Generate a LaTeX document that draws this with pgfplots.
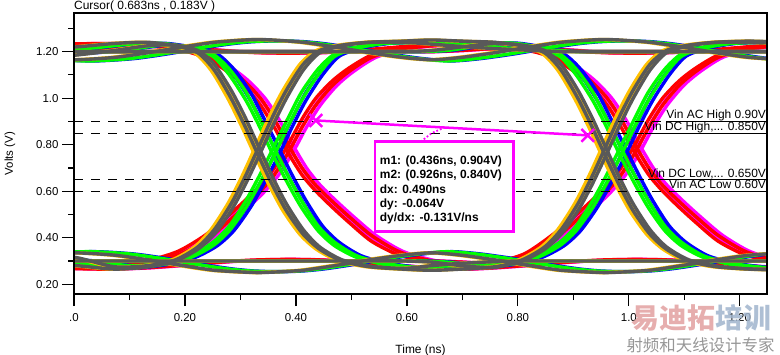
\documentclass[border=0pt]{standalone}
\usepackage{pgfplots}
\usepackage{pgfplotstable}
\pgfplotsset{compat=1.18}
\usepackage{fontspec}
\setmainfont{Liberation Sans}
\newfontfamily\cjk{Noto Sans CJK SC}
\definecolor{egray}{RGB}{89,89,89}
\definecolor{eorange}{RGB}{255,192,0}
\definecolor{egreen}{RGB}{0,255,0}
\definecolor{eblue}{RGB}{0,0,255}
\definecolor{ered}{RGB}{255,0,0}
\definecolor{emag}{RGB}{255,0,255}
\definecolor{wmred}{RGB}{226,160,160}
\definecolor{wmblue}{RGB}{160,180,205}
\definecolor{wmgray}{RGB}{150,150,150}

% fast class: gray (t1) / orange (t2)
\pgfplotstableread{
t1 t2 A B C D E F G H
-0.067 -0.073 1.215 0.285 1.175 0.325 1.20 0.30 1.17 0.33
0.003 -0.003 1.22 0.28 1.185 0.315 1.20 0.30 1.165 0.335
0.073 0.067 1.235 0.265 1.205 0.275 1.20 0.30 1.175 0.325
0.133 0.127 1.24 0.275 1.225 0.28 1.20 0.30 1.195 0.305
0.183 0.177 1.225 0.30 1.228 0.305 1.20 0.30 1.215 0.285
0.223 0.217 1.195 0.35 1.205 0.36 1.20 0.30 1.23 0.27
0.253 0.247 1.12 0.415 1.145 0.435 1.20 0.30 1.24 0.26
0.283 0.277 1.00 0.515 1.035 0.545 1.20 0.30 1.246 0.255
0.308 0.302 0.88 0.625 0.92 0.66 1.20 0.30 1.25 0.252
0.333 0.327 0.75 0.75 0.79 0.79 1.20 0.30 1.252 0.25
0.358 0.352 0.625 0.88 0.66 0.92 1.20 0.30 1.25 0.252
0.383 0.377 0.515 1.00 0.545 1.035 1.20 0.30 1.246 0.255
0.413 0.407 0.415 1.12 0.435 1.145 1.20 0.30 1.24 0.26
0.443 0.437 0.35 1.195 0.36 1.205 1.20 0.30 1.23 0.27
0.483 0.477 0.30 1.225 0.305 1.228 1.20 0.30 1.215 0.285
0.533 0.527 0.275 1.24 0.278 1.24 1.20 0.30 1.195 0.305
0.593 0.587 0.265 1.245 0.268 1.24 1.20 0.30 1.175 0.325
0.6455 0.6395 0.26 1.25 0.28 1.232 1.205 0.295 1.165 0.335
0.698 0.692 0.265 1.245 0.29 1.222 1.22 0.28 1.175 0.325
0.758 0.752 0.275 1.24 0.297 1.213 1.235 0.272 1.195 0.305
0.808 0.802 0.30 1.225 0.30 1.207 1.228 0.305 1.215 0.285
0.848 0.842 0.35 1.195 0.30 1.203 1.205 0.36 1.23 0.27
0.878 0.872 0.415 1.12 0.30 1.20 1.145 0.435 1.24 0.26
0.908 0.902 0.515 1.00 0.30 1.20 1.035 0.545 1.246 0.255
0.933 0.927 0.625 0.88 0.30 1.20 0.92 0.66 1.25 0.252
0.958 0.952 0.75 0.75 0.30 1.20 0.79 0.79 1.252 0.25
0.983 0.977 0.88 0.625 0.30 1.20 0.66 0.92 1.25 0.252
1.008 1.002 1.00 0.515 0.30 1.20 0.545 1.035 1.246 0.255
1.038 1.032 1.12 0.415 0.30 1.20 0.435 1.145 1.24 0.26
1.068 1.062 1.195 0.35 0.30 1.20 0.36 1.205 1.23 0.27
1.108 1.102 1.225 0.30 0.30 1.20 0.305 1.228 1.215 0.285
1.158 1.152 1.24 0.275 0.30 1.20 0.278 1.24 1.195 0.305
1.218 1.212 1.245 0.265 0.30 1.20 0.266 1.24 1.175 0.325
1.283 1.277 1.24 0.26 0.30 1.20 0.265 1.235 1.165 0.335
}\fasttab

% medium class: green (t1) / blue (t2)
\pgfplotstableread{
t1 t2 A B C D E F G H
-0.040 -0.032 1.21 0.29 1.19 0.31 1.20 0.30 1.165 0.335
0.030 0.038 1.215 0.285 1.195 0.30 1.20 0.30 1.16 0.34
0.100 0.108 1.232 0.27 1.21 0.28 1.20 0.30 1.17 0.33
0.160 0.168 1.235 0.285 1.228 0.29 1.20 0.30 1.19 0.31
0.210 0.218 1.215 0.315 1.22 0.322 1.20 0.30 1.21 0.29
0.250 0.258 1.18 0.365 1.19 0.38 1.20 0.30 1.225 0.275
0.280 0.288 1.10 0.43 1.125 0.45 1.20 0.30 1.235 0.265
0.310 0.318 0.99 0.53 1.025 0.56 1.20 0.30 1.242 0.258
0.335 0.343 0.875 0.635 0.91 0.67 1.20 0.30 1.245 0.255
0.360 0.368 0.75 0.75 0.79 0.79 1.20 0.30 1.246 0.254
0.385 0.393 0.635 0.875 0.67 0.91 1.20 0.30 1.245 0.255
0.410 0.418 0.53 0.99 0.56 1.025 1.20 0.30 1.242 0.258
0.440 0.448 0.43 1.10 0.45 1.125 1.20 0.30 1.235 0.265
0.470 0.478 0.365 1.18 0.38 1.19 1.20 0.30 1.225 0.275
0.510 0.518 0.315 1.215 0.322 1.22 1.20 0.30 1.21 0.29
0.560 0.568 0.285 1.235 0.29 1.237 1.20 0.30 1.19 0.31
0.620 0.628 0.27 1.24 0.272 1.24 1.20 0.30 1.17 0.33
0.6725 0.6805 0.265 1.245 0.28 1.235 1.205 0.295 1.16 0.34
0.725 0.733 0.27 1.24 0.29 1.225 1.222 0.28 1.17 0.33
0.785 0.793 0.285 1.235 0.295 1.215 1.237 0.29 1.19 0.31
0.835 0.843 0.315 1.215 0.298 1.21 1.22 0.322 1.21 0.29
0.875 0.883 0.365 1.18 0.30 1.205 1.19 0.38 1.225 0.275
0.905 0.913 0.43 1.10 0.30 1.20 1.125 0.45 1.235 0.265
0.935 0.943 0.53 0.99 0.30 1.20 1.025 0.56 1.242 0.258
0.960 0.968 0.635 0.875 0.30 1.20 0.91 0.67 1.245 0.255
0.985 0.993 0.75 0.75 0.30 1.20 0.79 0.79 1.246 0.254
1.010 1.018 0.875 0.635 0.30 1.20 0.67 0.91 1.245 0.255
1.035 1.043 0.99 0.53 0.30 1.20 0.56 1.025 1.242 0.258
1.065 1.073 1.10 0.43 0.30 1.20 0.45 1.125 1.235 0.265
1.095 1.103 1.18 0.365 0.30 1.20 0.38 1.19 1.225 0.275
1.135 1.143 1.215 0.315 0.30 1.20 0.322 1.22 1.21 0.29
1.185 1.193 1.235 0.285 0.30 1.20 0.29 1.237 1.19 0.31
1.245 1.253 1.24 0.27 0.30 1.20 0.272 1.24 1.17 0.33
1.310 1.318 1.238 0.265 0.30 1.20 0.27 1.238 1.16 0.34
}\medtab

% slow class: red (t1) / magenta (t2)
\pgfplotstableread{
t1 t2 A B C D E F G H
-0.014 -0.006 1.225 0.28 1.21 0.30 1.20 0.30 1.232 0.268
0.056 0.064 1.228 0.275 1.215 0.30 1.20 0.30 1.235 0.265
0.126 0.134 1.225 0.295 1.228 0.30 1.20 0.30 1.23 0.27
0.186 0.194 1.21 0.325 1.215 0.34 1.20 0.30 1.22 0.28
0.236 0.244 1.175 0.385 1.185 0.41 1.20 0.30 1.21 0.29
0.276 0.284 1.115 0.465 1.13 0.49 1.20 0.30 1.203 0.297
0.306 0.314 1.055 0.53 1.075 0.555 1.20 0.30 1.198 0.302
0.336 0.344 0.97 0.60 1.00 0.625 1.20 0.30 1.195 0.305
0.361 0.369 0.875 0.67 0.91 0.70 1.20 0.30 1.194 0.306
0.386 0.394 0.765 0.765 0.80 0.80 1.20 0.30 1.193 0.307
0.411 0.419 0.67 0.875 0.70 0.91 1.20 0.30 1.194 0.306
0.436 0.444 0.60 0.97 0.625 1.00 1.20 0.30 1.195 0.305
0.466 0.474 0.53 1.055 0.555 1.075 1.20 0.30 1.198 0.302
0.496 0.504 0.465 1.115 0.49 1.13 1.20 0.30 1.203 0.297
0.536 0.544 0.385 1.175 0.41 1.185 1.20 0.30 1.21 0.29
0.586 0.594 0.325 1.21 0.34 1.215 1.20 0.30 1.22 0.28
0.646 0.654 0.295 1.225 0.30 1.228 1.20 0.30 1.23 0.27
0.6985 0.7065 0.285 1.23 0.29 1.225 1.205 0.295 1.235 0.265
0.751 0.759 0.295 1.225 0.29 1.22 1.212 0.29 1.23 0.27
0.811 0.819 0.325 1.21 0.292 1.215 1.205 0.33 1.22 0.28
0.861 0.869 0.385 1.175 0.295 1.21 1.185 0.41 1.21 0.29
0.901 0.909 0.465 1.115 0.298 1.205 1.13 0.49 1.203 0.297
0.931 0.939 0.53 1.055 0.30 1.20 1.075 0.555 1.198 0.302
0.961 0.969 0.60 0.97 0.30 1.20 1.00 0.625 1.195 0.305
0.986 0.994 0.67 0.875 0.30 1.20 0.91 0.70 1.194 0.306
1.011 1.019 0.765 0.765 0.30 1.20 0.80 0.80 1.193 0.307
1.036 1.044 0.875 0.67 0.30 1.20 0.70 0.91 1.194 0.306
1.061 1.069 0.97 0.60 0.30 1.20 0.625 1.00 1.195 0.305
1.091 1.099 1.055 0.53 0.30 1.20 0.555 1.075 1.198 0.302
1.121 1.129 1.115 0.465 0.30 1.20 0.49 1.13 1.203 0.297
1.161 1.169 1.175 0.385 0.30 1.20 0.41 1.185 1.21 0.29
1.211 1.219 1.21 0.325 0.30 1.20 0.34 1.215 1.22 0.28
1.271 1.279 1.225 0.295 0.30 1.20 0.30 1.228 1.23 0.27
1.336 1.344 1.23 0.285 0.30 1.20 0.29 1.23 1.235 0.265
}\slowtab

\begin{document}
\begin{tikzpicture}
\begin{axis}[name=ax, scale only axis, width=693bp, height=281bp,
  xmin=0, xmax=1.249, ymin=0.158, ymax=1.366,
  axis on top,
  axis line style={line width=1.2bp},
  xtick={0,0.2,0.4,0.6,0.8,1.0,1.2},
  xticklabels={.0,0.20,0.40,0.60,0.80,1.0,1.20},
  minor xtick={0.1,0.3,0.5,0.7,0.9,1.1},
  ytick={0.2,0.4,0.6,0.8,1.0,1.2},
  yticklabels={0.20,0.40,0.60,0.80,1.0,1.20},
  minor ytick={0.3,0.5,0.7,0.9,1.1,1.3},
  tick align=outside, xtick pos=left, ytick pos=left,
  major tick length=12bp, minor tick length=6bp,
  tick style={line width=1.2bp, black},
  tick label style={font=\fontsize{11.5}{13}\selectfont},
  /pgf/number format/assume math mode=true,
  xticklabel shift=4bp,
  eye/.style={line width=3.4bp, smooth, tension=0.45, mark=none},
]
% magenta
\addplot[eye, emag] table[x=t2,y=A]{\slowtab};
\addplot[eye, emag] table[x=t2,y=B]{\slowtab};
\addplot[eye, emag] table[x=t2,y=C]{\slowtab};
\addplot[eye, emag] table[x=t2,y=D]{\slowtab};
\addplot[eye, emag] table[x=t2,y=E]{\slowtab};
\addplot[eye, emag] table[x=t2,y=F]{\slowtab};
\addplot[eye, emag] table[x=t2,y=G]{\slowtab};
\addplot[eye, emag] table[x=t2,y=H]{\slowtab};
% red
\addplot[eye, ered] table[x=t1,y=A]{\slowtab};
\addplot[eye, ered] table[x=t1,y=B]{\slowtab};
\addplot[eye, ered] table[x=t1,y=C]{\slowtab};
\addplot[eye, ered] table[x=t1,y=D]{\slowtab};
\addplot[eye, ered] table[x=t1,y=E]{\slowtab};
\addplot[eye, ered] table[x=t1,y=F]{\slowtab};
\addplot[eye, ered] table[x=t1,y=G]{\slowtab};
\addplot[eye, ered] table[x=t1,y=H]{\slowtab};
% blue
\addplot[eye, eblue] table[x=t2,y=A]{\medtab};
\addplot[eye, eblue] table[x=t2,y=B]{\medtab};
\addplot[eye, eblue] table[x=t2,y=C]{\medtab};
\addplot[eye, eblue] table[x=t2,y=D]{\medtab};
\addplot[eye, eblue] table[x=t2,y=E]{\medtab};
\addplot[eye, eblue] table[x=t2,y=F]{\medtab};
\addplot[eye, eblue] table[x=t2,y=G]{\medtab};
\addplot[eye, eblue] table[x=t2,y=H]{\medtab};
% green
\addplot[eye, egreen] table[x=t1,y=A]{\medtab};
\addplot[eye, egreen] table[x=t1,y=B]{\medtab};
\addplot[eye, egreen] table[x=t1,y=C]{\medtab};
\addplot[eye, egreen] table[x=t1,y=D]{\medtab};
\addplot[eye, egreen] table[x=t1,y=E]{\medtab};
\addplot[eye, egreen] table[x=t1,y=F]{\medtab};
\addplot[eye, egreen] table[x=t1,y=G]{\medtab};
\addplot[eye, egreen] table[x=t1,y=H]{\medtab};
% orange
\addplot[eye, eorange] table[x=t2,y=A]{\fasttab};
\addplot[eye, eorange] table[x=t2,y=B]{\fasttab};
\addplot[eye, eorange] table[x=t2,y=C]{\fasttab};
\addplot[eye, eorange] table[x=t2,y=D]{\fasttab};
\addplot[eye, eorange] table[x=t2,y=E]{\fasttab};
\addplot[eye, eorange] table[x=t2,y=F]{\fasttab};
\addplot[eye, eorange] table[x=t2,y=G]{\fasttab};
\addplot[eye, eorange] table[x=t2,y=H]{\fasttab};
% gray
\addplot[eye, egray] table[x=t1,y=A]{\fasttab};
\addplot[eye, egray] table[x=t1,y=B]{\fasttab};
\addplot[eye, egray] table[x=t1,y=C]{\fasttab};
\addplot[eye, egray] table[x=t1,y=D]{\fasttab};
\addplot[eye, egray] table[x=t1,y=E]{\fasttab};
\addplot[eye, egray] table[x=t1,y=F]{\fasttab};
\addplot[eye, egray] table[x=t1,y=G]{\fasttab};
\addplot[eye, egray] table[x=t1,y=H]{\fasttab};

% threshold lines
\addplot[black, line width=1bp, dash pattern=on 9bp off 8bp, mark=none] coordinates {(0,0.90) (1.249,0.90)};
\addplot[black, line width=1bp, dash pattern=on 9bp off 8bp, mark=none] coordinates {(0,0.85) (1.249,0.85)};
\addplot[black, line width=1bp, dash pattern=on 9bp off 8bp, mark=none] coordinates {(0,0.65) (1.249,0.65)};
\addplot[black, line width=1bp, dash pattern=on 9bp off 8bp, mark=none] coordinates {(0,0.60) (1.249,0.60)};
\node[anchor=south east, inner sep=0pt, outer sep=0pt, font=\fontsize{12}{14}\selectfont] (l1) at (axis cs:1.247,0.90) {\vphantom{g}Vin AC High 0.90V};
\node[anchor=south east, inner sep=0pt, outer sep=0pt, font=\fontsize{12}{14}\selectfont] (l2) at (axis cs:1.247,0.85) {\vphantom{g}Vin DC High,... 0.850V};
\node[anchor=south east, inner sep=0pt, outer sep=0pt, font=\fontsize{12}{14}\selectfont] (l3) at (axis cs:1.247,0.65) {\vphantom{g}Vin DC Low,... 0.650V};
\node[anchor=south east, inner sep=0pt, outer sep=0pt, font=\fontsize{12}{14}\selectfont] (l4) at (axis cs:1.247,0.60) {\vphantom{g}Vin AC Low 0.60V};
\draw[line width=1bp] (l1.south west) -- (l1.south east);
\draw[line width=1bp] (l2.south west) -- (l2.south east);
\draw[line width=1bp] (l3.south west) -- (l3.south east);
\draw[line width=1bp] (l4.south west) -- (l4.south east);

% cursors
\addplot[emag, line width=2.5bp, mark=x, mark size=9bp, mark options={solid, line width=2.5bp}] coordinates {(0.436,0.904) (0.926,0.840)};
\addplot[emag, line width=1.8bp, dotted, mark=none] coordinates {(0.625,0.813) (0.645,0.850) (0.668,0.874)};

% measurement box
\draw[emag, line width=2.6bp, fill=white] (axis cs:0.5423,0.8131) rectangle (axis cs:0.7916,0.4261);
\node[anchor=north west, inner sep=0pt, align=left, font=\bfseries\fontsize{12}{14.3}\selectfont] at (axis cs:0.551,0.752)
 {m1: (0.436ns, 0.904V)\\m2: (0.926ns, 0.840V)\\dx: 0.490ns\\dy: -0.064V\\dy/dx: -0.131V/ns};
\end{axis}

\node[anchor=south west, inner sep=0pt, font=\fontsize{12}{14}\selectfont] at ([yshift=0.5bp]ax.north west) {Cursor( 0.683ns , 0.183V )};
\node[rotate=90, font=\fontsize{11.5}{13}\selectfont] at ([xshift=-64bp]ax.west) {Volts (V)};
\node[font=\fontsize{12}{14}\selectfont] at ([yshift=-56bp]ax.south) {Time (ns)};

% watermark
\node[font=\cjk\bfseries\fontsize{28}{30}\selectfont, opacity=0.85] at (627.5bp,-24bp) {\textcolor{wmred}{易迪拓}\textcolor{wmblue}{培训}};
\node[font=\cjk\fontsize{16.5}{18}\selectfont, text=wmgray] at (626.5bp,-51bp) {射频和天线设计专家};

\pgfresetboundingbox
\path[use as bounding box] (-74bp,-61bp) rectangle (706bp,294bp);
\end{tikzpicture}
\end{document}
